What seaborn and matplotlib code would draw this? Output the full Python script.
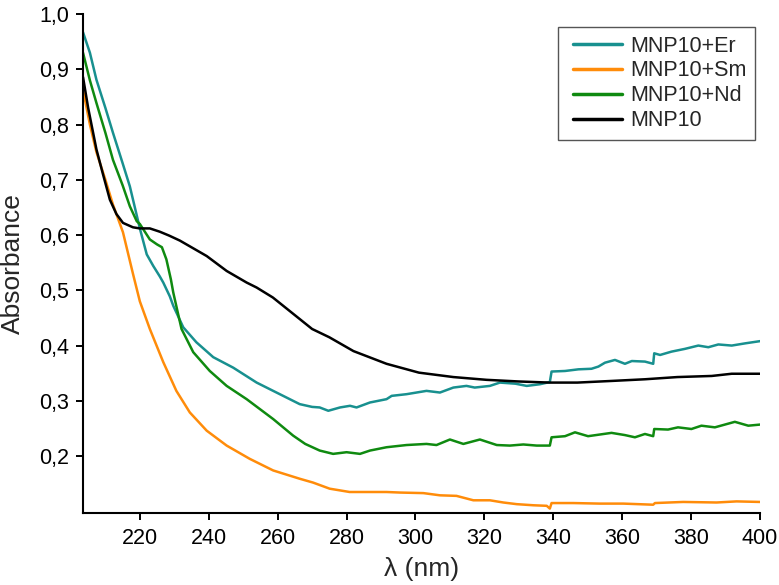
import matplotlib
matplotlib.use("Agg")
import matplotlib.pyplot as plt
import seaborn as sns
import pandas as pd
import numpy as np
from matplotlib.ticker import FuncFormatter

# ---------------- data ----------------
series_names = ["MNP10+Er", "MNP10+Sm", "MNP10+Nd", "MNP10"]
series_colors = ["#18908f", "#ff8c0a", "#0f8a10", "#000000"]

er_x = [203.5, 205.5, 207.4, 210, 212.2, 215, 217.1, 220, 222, 223.9, 225.8, 226.8, 228.7,
        229.7, 232.6, 236.4, 241.3, 247.1, 253.9, 258.7, 266.4, 270, 272.2, 274.7, 278.1, 281,
        282.9, 286.8, 291.6, 293.1, 297.4, 303.2, 307.1, 311, 314.8, 317.2, 321.6, 324.5, 329,
        332.3, 336.1, 339.0, 339.5, 343.4, 347.3, 351.1, 353.1, 355, 357.9, 360.8, 362.8, 366.6,
        369.0, 369.3, 371, 374.3, 378.2, 382.1, 385, 387.9, 391.8, 395.7, 400]
er_y = [0.967, 0.930, 0.881, 0.830, 0.785, 0.730, 0.688, 0.612, 0.565, 0.544, 0.525, 0.514, 0.489,
        0.472, 0.433, 0.406, 0.379, 0.360, 0.333, 0.318, 0.294, 0.289, 0.288, 0.282, 0.288, 0.291,
        0.288, 0.297, 0.303, 0.309, 0.312, 0.318, 0.315, 0.324, 0.327, 0.324, 0.327, 0.333, 0.331,
        0.327, 0.330, 0.334, 0.353, 0.354, 0.357, 0.358, 0.362, 0.369, 0.374, 0.367, 0.372, 0.371,
        0.367, 0.386, 0.383, 0.389, 0.394, 0.400, 0.397, 0.402, 0.400, 0.404, 0.408]

sm_x = [203.5, 205.5, 207.4, 210, 212.2, 215.1, 218, 220, 222.9, 226.8, 230.6, 234.5, 239.4,
        245.2, 251.9, 258.7, 266.4, 270.3, 275.1, 280.9, 285.8, 291.6, 295.5, 302.3, 307.1, 311.9,
        316.8, 321.6, 325.5, 329.4, 334.2, 338.1, 339.0, 339.5, 345.8, 353.5, 360.3, 369.0, 369.5,
        377.7, 387.4, 393.2, 400]
sm_y = [0.863, 0.800, 0.750, 0.700, 0.655, 0.605, 0.530, 0.480, 0.430, 0.370, 0.318, 0.279, 0.246,
        0.219, 0.195, 0.174, 0.159, 0.152, 0.141, 0.135, 0.135, 0.135, 0.134, 0.133, 0.129, 0.128,
        0.120, 0.120, 0.116, 0.113, 0.111, 0.110, 0.105, 0.115, 0.115, 0.114, 0.114, 0.112, 0.115,
        0.117, 0.116, 0.118, 0.117]

nd_x = [203.5, 205.5, 207.4, 210, 212.2, 215, 217.1, 219.1, 220, 222.9, 225, 226.4, 227.7, 229.0,
        229.7, 231, 232.1, 235.5, 240.3, 245.2, 251, 258.7, 264.5, 268, 272.2, 276.1, 280, 283.9,
        286.8, 291.6, 297.4, 303.2, 306.1, 310, 313.9, 318.7, 323.6, 327.4, 331.3, 335.2, 339.0,
        339.5, 343.4, 346.3, 350.1, 356.9, 360.8, 363.7, 366.6, 369.0, 369.3, 373.3, 376.2, 380.1,
        383, 386.9, 392.7, 396.6, 400]
nd_y = [0.930, 0.880, 0.839, 0.785, 0.736, 0.690, 0.652, 0.625, 0.620, 0.592, 0.583, 0.578, 0.556, 0.520,
        0.496, 0.460, 0.430, 0.388, 0.354, 0.327, 0.303, 0.267, 0.237, 0.222, 0.210, 0.204, 0.207, 0.204,
        0.210, 0.216, 0.220, 0.222, 0.220, 0.230, 0.222, 0.230, 0.220, 0.219, 0.221, 0.219, 0.219,
        0.234, 0.236, 0.243, 0.236, 0.242, 0.238, 0.234, 0.240, 0.236, 0.249, 0.248, 0.252, 0.249,
        0.255, 0.252, 0.262, 0.255, 0.257]

mnp_x = [203.5, 205, 207.4, 209.3, 211.3, 213.2, 215.1, 218, 220, 222.9, 225.8, 228.5, 231.6,
         235.5, 239.4, 245.2, 251, 253.9, 258.6, 261.6, 266.4, 270, 275, 282, 291.6, 301, 311,
         320.6, 330, 339, 347, 357, 366.6, 376, 386, 391.8, 400]
mnp_y = [0.886, 0.830, 0.755, 0.710, 0.664, 0.638, 0.622, 0.614, 0.612, 0.612, 0.606, 0.599, 0.590,
         0.576, 0.562, 0.535, 0.514, 0.505, 0.487, 0.472, 0.448, 0.430, 0.415, 0.390, 0.367, 0.351, 0.343,
         0.338, 0.335, 0.333, 0.333, 0.336, 0.339, 0.343, 0.345, 0.349, 0.349]

x_ticks = [220, 240, 260, 280, 300, 320, 340, 360, 380, 400]
y_ticks = [0.2, 0.3, 0.4, 0.5, 0.6, 0.7, 0.8, 0.9, 1.0]

# ---------------- build long table ----------------
frames = []
for name, xs, ys in zip(series_names, [er_x, sm_x, nd_x, mnp_x], [er_y, sm_y, nd_y, mnp_y]):
    frames.append(pd.DataFrame({"wl": xs, "abs": ys, "sample": name}))
df = pd.concat(frames, ignore_index=True)

sns.set_style("ticks")
plt.rcParams["font.family"] = ["Liberation Sans", "DejaVu Sans"]

fig = plt.figure(figsize=(7.79, 5.85), dpi=100)
ax = fig.add_axes([83 / 779, 1 - 513 / 585, (760 - 83) / 779, (513 - 14) / 585])

sns.lineplot(data=df, x="wl", y="abs", hue="sample", hue_order=series_names,
             palette=dict(zip(series_names, series_colors)), estimator=None, sort=False,
             linewidth=1.8, ax=ax)

ax.set_xlim(203.5, 400)
ax.set_ylim(0.097, 1.0)
ax.set_xticks(x_ticks)
ax.set_yticks(y_ticks)
ax.yaxis.set_major_formatter(FuncFormatter(lambda v, p: f"{v:.1f}".replace(".", ",")))
ax.tick_params(axis="both", direction="out", length=5, width=1.4, labelsize=15.5, colors="black")
ax.tick_params(axis="x", pad=5.5)
ax.tick_params(axis="y", pad=5)
for s in ["top", "right"]:
    ax.spines[s].set_visible(False)
for s in ["left", "bottom"]:
    ax.spines[s].set_linewidth(1.5)
    ax.spines[s].set_color("black")

ax.set_xlabel("λ (nm)", fontsize=19, labelpad=6)
ax.set_ylabel("Absorbance", fontsize=19, labelpad=10)

handles, labels = ax.get_legend_handles_labels()
leg = ax.legend(handles, labels, loc="upper right", bbox_to_anchor=(755 / 779, 1 - 27 / 585),
                bbox_transform=fig.transFigure, borderaxespad=0, fontsize=15.5, frameon=True,
                fancybox=False, framealpha=1, edgecolor="#555555", handlelength=2.6,
                labelspacing=0.18, handletextpad=0.35, borderpad=0.4)
leg.get_frame().set_linewidth(1.0)
for l in leg.get_lines():
    l.set_linewidth(2.5)
    xd = np.asarray(l.get_xdata(), dtype=float)
    l.set_xdata(np.linspace(xd[0] + 5, xd[-1], len(xd)))

fig.savefig("out.png", dpi=100)
